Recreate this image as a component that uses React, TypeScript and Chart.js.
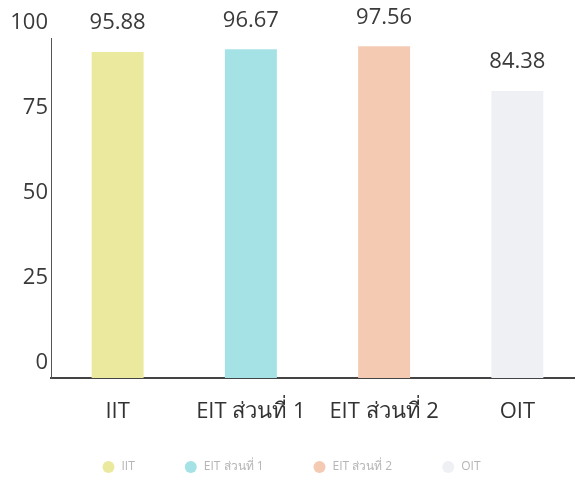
import React, { useEffect, useRef } from "react";
import { Chart, registerables } from "chart.js";

Chart.register(...registerables);

const categories = ["IIT", "EIT ส่วนที่ 1", "EIT ส่วนที่ 2", "OIT"];
const values = [95.88, 96.67, 97.56, 84.38];
const barColors = ["#ebe99e", "#a4e2e6", "#f5cab3", "#eef0f4"];
const yTicks = [0, 25, 50, 75, 100];

const FONT = "'Open Sans', 'Noto Sans', sans-serif";

const valueLabels = {
  id: "valueLabels",
  afterDatasetsDraw(chart: any) {
    const ctx = chart.ctx;
    const meta = chart.getDatasetMeta(0);
    ctx.save();
    ctx.font = `22px ${FONT}`;
    ctx.fillStyle = "#3a3a3a";
    ctx.textAlign = "center";
    ctx.textBaseline = "middle";
    meta.data.forEach((bar: any, i: number) => {
      ctx.fillText(values[i].toFixed(2), bar.x, bar.y - 29);
    });
    ctx.restore();
  },
};

// legend drawn below the axis, laid out from measured text widths
const bottomLegend = {
  id: "bottomLegend",
  afterDraw(chart: any) {
    const ctx = chart.ctx;
    ctx.save();
    ctx.font = `12px ${FONT}`;
    const r = 6;
    const textGap = 7;
    const itemGap = 50;
    const widths = categories.map((c) => ctx.measureText(c).width);
    const total =
      widths.reduce((a, w) => a + 2 * r + textGap + w, 0) + itemGap * (categories.length - 1);
    let x = (chart.chartArea.left + chart.chartArea.right) / 2 - total / 2 - 26;
    const y = chart.height - 19;
    ctx.textBaseline = "middle";
    ctx.textAlign = "left";
    categories.forEach((c, i) => {
      ctx.beginPath();
      ctx.fillStyle = barColors[i];
      ctx.arc(x + r, y, r, 0, Math.PI * 2);
      ctx.fill();
      ctx.fillStyle = "#b5b5b5";
      ctx.fillText(c, x + 2 * r + textGap, y);
      x += 2 * r + textGap + widths[i] + itemGap;
    });
    ctx.restore();
  },
};

export default function App() {
  const ref = useRef<HTMLCanvasElement>(null);
  useEffect(() => {
    if (!ref.current) return;
    const chart = new Chart(ref.current, {
      type: "bar",
      data: {
        labels: categories,
        datasets: [
          {
            label: "score",
            data: values,
            backgroundColor: barColors,
            borderWidth: 0,
            categoryPercentage: 1,
            barPercentage: 0.39,
          },
        ],
      },
      options: {
        animation: false,
        responsive: false,
        maintainAspectRatio: false,
        layout: { padding: { top: 38, bottom: 55, left: 0, right: 0 } },
        plugins: {
          tooltip: { enabled: false },
          legend: { display: false },
        },
        scales: {
          x: {
            grid: { display: false, drawTicks: false },
            border: { display: true, color: "#444", width: 2 },
            ticks: {
              color: "#333",
              padding: 21,
              font: { family: FONT, size: 22 },
            },
            afterFit: (s: any) => {
              s.height = 53;
            },
          },
          y: {
            min: 0,
            max: 100,
            afterBuildTicks: (s: any) => {
              s.ticks = yTicks.map((v) => ({ value: v }));
            },
            grid: { display: false, drawTicks: false },
            border: { display: true, color: "#555", width: 1 },
            ticks: {
              color: "#3a3a3a",
              padding: 3,
              labelOffset: -15,
              font: { family: FONT, size: 22 },
            },
            afterFit: (s: any) => {
              s.width = 51;
            },
          },
        },
      },
      plugins: [valueLabels, bottomLegend],
    });
    return () => chart.destroy();
  }, []);

  return (
    <div
      style={{
        position: "fixed",
        left: 0,
        top: 0,
        width: 575,
        height: 486,
        overflow: "hidden",
        background: "#fff",
      }}
    >
      <canvas ref={ref} width={584} height={486} style={{ width: 584, height: 486 }} />
    </div>
  );
}
